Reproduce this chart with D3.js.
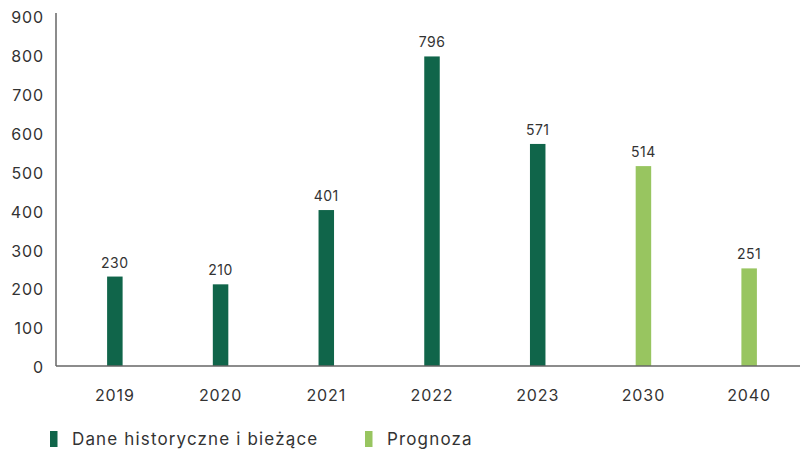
<!DOCTYPE html>
<html><head><meta charset="utf-8">
<script src="https://cdn.jsdelivr.net/npm/d3@7"></script>
<style>
html,body{margin:0;padding:0;background:#fff;}
text{font-family:"Inter","Open Sans",sans-serif;fill:#333;letter-spacing:0.9px;}
</style></head>
<body>
<svg id="chart" width="802" height="449"></svg>
<script>
const categories = ["2019","2020","2021","2022","2023","2030","2040"];
const values = [230,210,401,796,571,514,251];
const seriesType = ["hist","hist","hist","hist","hist","prog","prog"];
const yTicks = [0,100,200,300,400,500,600,700,800,900];
const legendLabels = ["Dane historyczne i bieżące","Prognoza"];
const colors = {hist:"#10654A", prog:"#98C560"};

const svg = d3.select("#chart");
const x = d3.scaleBand().domain(categories).range([62,802]);
const y = d3.scaleLinear().domain([0,900]).range([366,16]);
const barW = 15.5;

const yAxis = svg.append("g").attr("transform","translate(56,0)")
  .call(d3.axisLeft(y).tickValues(yTicks).tickSize(0).tickPadding(12));
yAxis.select(".domain").remove();
yAxis.selectAll("text").attr("font-size",16).attr("dy","0.42em").style("fill","#333");

svg.append("line").attr("x1",56).attr("x2",56).attr("y1",13).attr("y2",y(0))
  .attr("stroke","#666").attr("stroke-width",1.5);

const xAxis = svg.append("g").attr("transform",`translate(0,${y(0)})`)
  .call(d3.axisBottom(x).tickSize(0).tickPadding(24));
xAxis.select(".domain").remove();
xAxis.selectAll("text").attr("font-size",16).style("fill","#333");

svg.selectAll("rect.bar").data(values).enter().append("rect")
  .attr("class","bar")
  .attr("x",(d,i)=>x(categories[i])+x.bandwidth()/2-barW/2)
  .attr("width",barW)
  .attr("y",d=>y(d))
  .attr("height",d=>y(0)-y(d))
  .attr("fill",(d,i)=>colors[seriesType[i]]);

svg.append("line").attr("x1",56).attr("x2",800).attr("y1",y(0)).attr("y2",y(0))
  .attr("stroke","#666").attr("stroke-width",1.5);

svg.selectAll("text.val").data(values).enter().append("text")
  .attr("class","val")
  .attr("x",(d,i)=>x(categories[i])+x.bandwidth()/2)
  .attr("y",d=>y(d)-9)
  .attr("text-anchor","middle")
  .attr("font-size",14)
  .style("letter-spacing","0.5px")
  .text(d=>d);

const legend = [{label:legendLabels[0],c:colors.hist,x:50},{label:legendLabels[1],c:colors.prog,x:365}];
const lg = svg.selectAll("g.lg").data(legend).enter().append("g").attr("class","lg")
  .attr("transform",d=>`translate(${d.x},431)`);
lg.append("rect").attr("width",7.5).attr("height",16).attr("fill",d=>d.c);
lg.append("text").attr("x",22).attr("y",8).attr("dy","0.36em").attr("font-size",17)
  .style("letter-spacing","1.15px").text(d=>d.label);
</script>
</body></html>
